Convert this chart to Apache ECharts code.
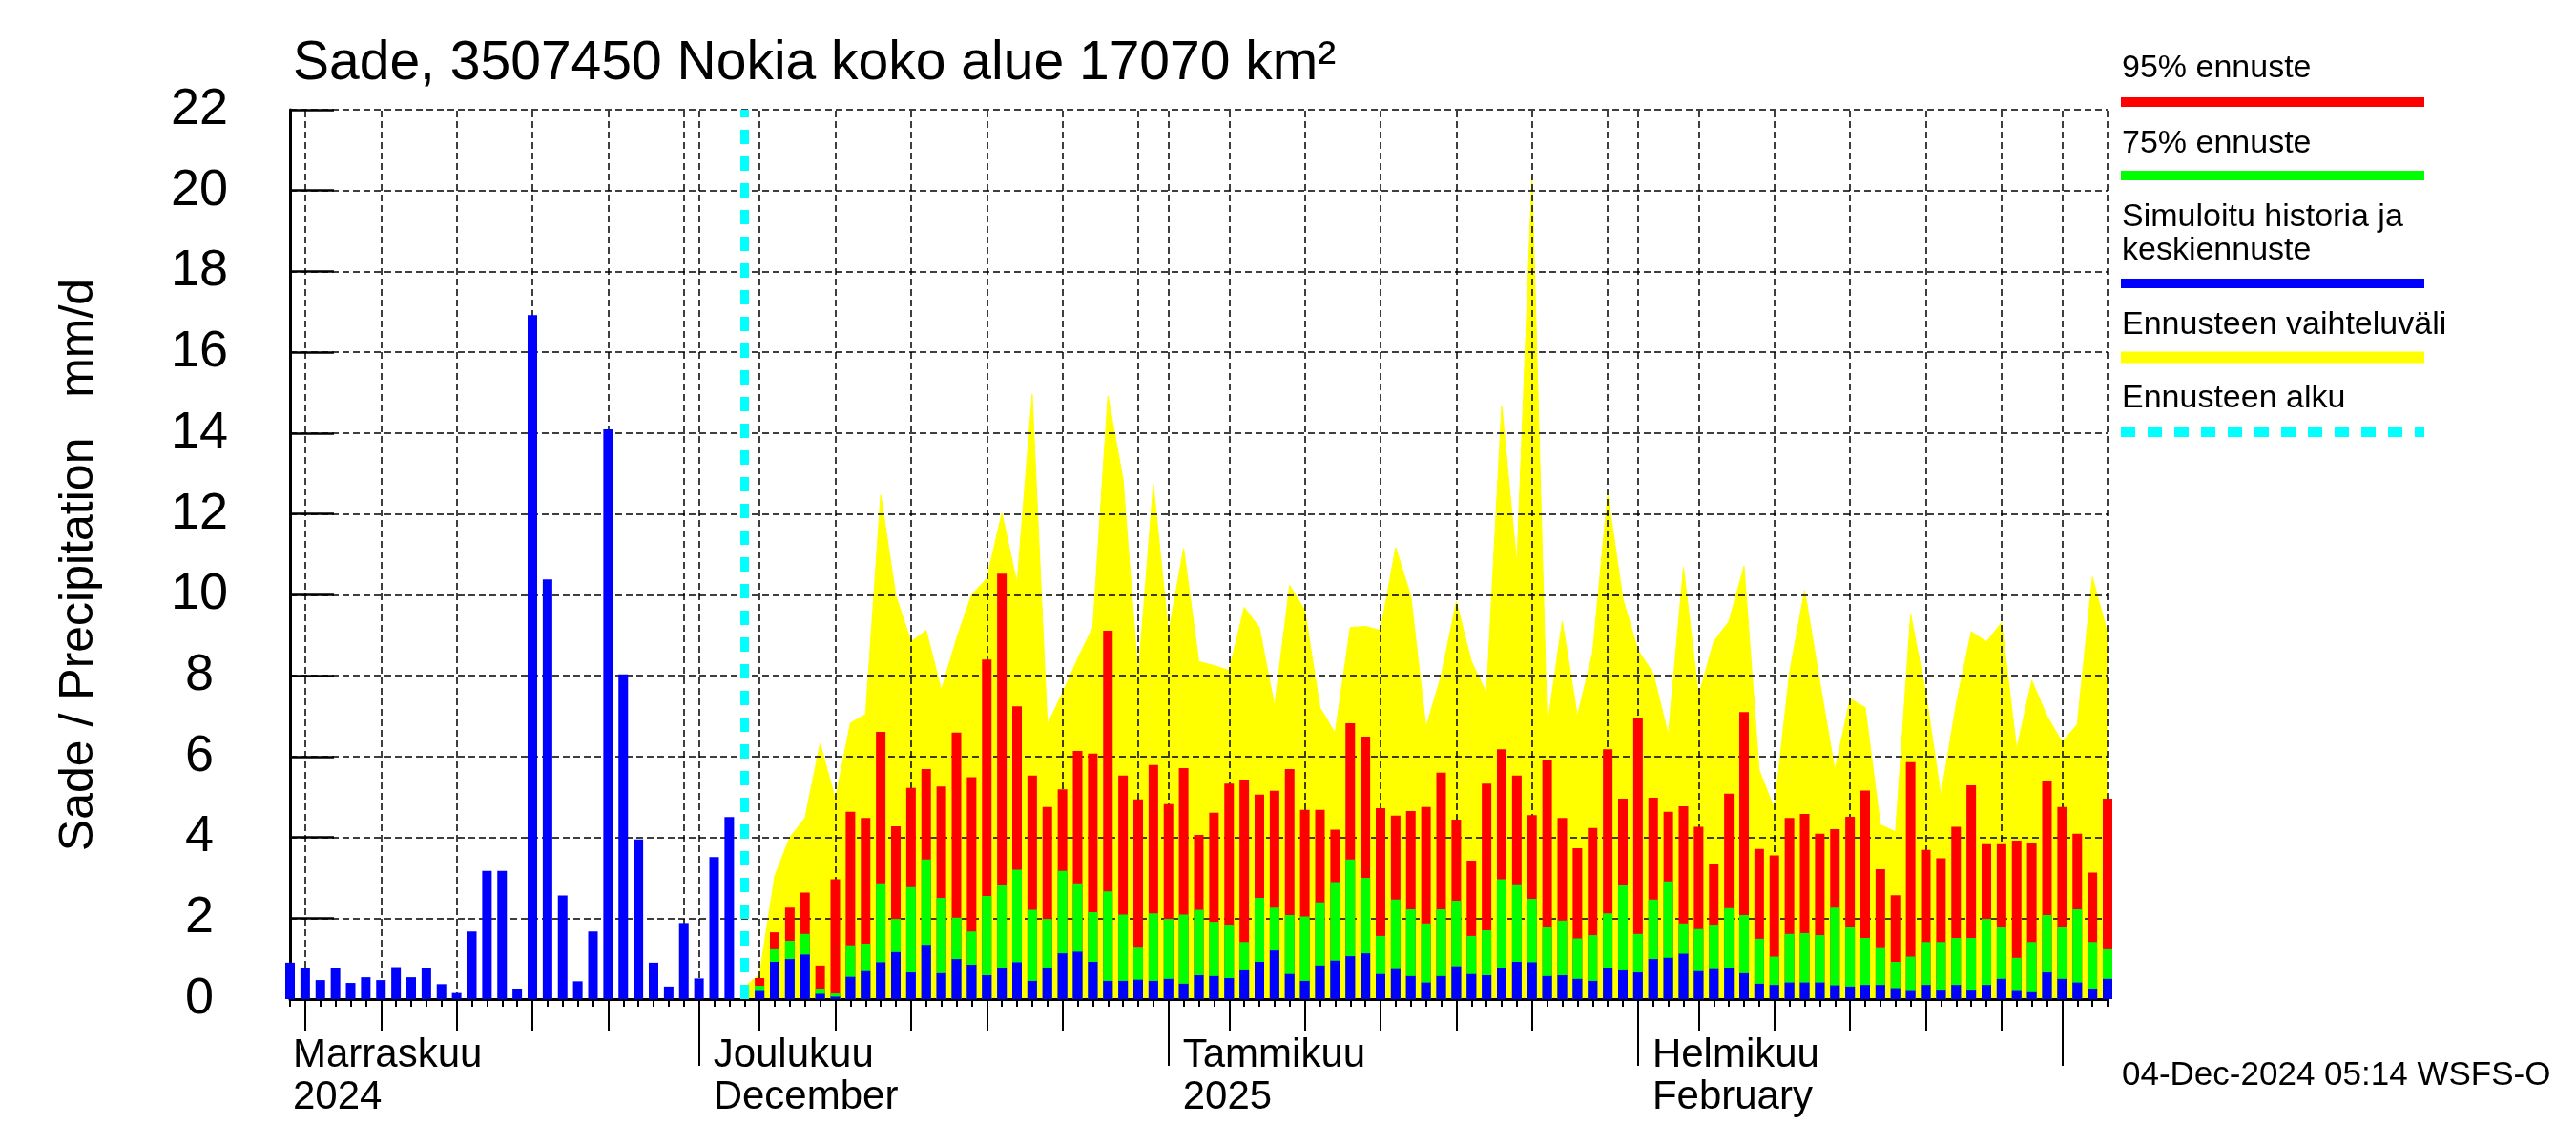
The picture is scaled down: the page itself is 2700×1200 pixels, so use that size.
<!DOCTYPE html>
<html><head><meta charset="utf-8">
<script src="https://cdn.jsdelivr.net/npm/echarts@6/dist/echarts.min.js"></script>
<style>html,body{margin:0;padding:0;background:#fff}#c{width:2700px;height:1200px}</style>
</head><body><div id="c"></div>
<script>
const FONT = '"Liberation Sans", Arial, Helvetica, sans-serif';

// Day index 0 = 2024-11-04, last day index 120 = 2025-03-04
const firstDay = '2024-11-04';
const lastDayIndex = 120;
const forecastStartDay = 30; // 2024-12-04

// Simulated history (days 0..29)
const histValues = [0.90, 0.77, 0.47, 0.77, 0.40, 0.54, 0.47, 0.79, 0.54, 0.77,
  0.37, 0.15, 1.67, 3.17, 3.17, 0.24, 16.92, 10.38, 2.56, 0.44,
  1.67, 14.09, 8.03, 3.95, 0.90, 0.31, 1.88, 0.51, 3.51, 4.50];

// Forecast bars, days 31..120
const fcRed = [0.52, 1.65, 2.26, 2.63, 0.83, 2.96, 4.63, 4.48, 6.61, 4.27,
  5.22, 5.69, 5.26, 6.59, 5.49, 8.40, 10.52, 7.24, 5.53, 4.75,
  5.19, 6.14, 6.07, 9.11, 5.53, 4.94, 5.79, 4.82, 5.71, 4.06,
  4.61, 5.33, 5.43, 5.06, 5.15, 5.69, 4.68, 4.68, 4.19, 6.82,
  6.49, 4.72, 4.54, 4.65, 4.75, 5.60, 4.44, 3.42, 5.33, 6.18,
  5.53, 4.55, 5.90, 4.48, 3.73, 4.23, 6.18, 4.96, 6.96, 4.98,
  4.63, 4.77, 4.26, 3.34, 5.08, 7.10, 3.71, 3.55, 4.48, 4.58,
  4.09, 4.20, 4.51, 5.16, 3.21, 2.57, 5.86, 3.69, 3.48, 4.26,
  5.29, 3.83, 3.83, 3.92, 3.85, 5.39, 4.75, 4.09, 3.13, 4.96];
const fcGreen = [0.33, 1.23, 1.44, 1.61, 0.24, 0.14, 1.33, 1.37, 2.86, 1.98,
  2.77, 3.45, 2.50, 2.01, 1.67, 2.55, 2.81, 3.20, 2.21, 1.98,
  3.17, 2.86, 2.15, 2.66, 2.09, 1.27, 2.12, 1.98, 2.09, 2.21,
  1.91, 1.84, 1.41, 2.50, 2.26, 2.08, 2.04, 2.39, 2.89, 3.45,
  3.00, 1.56, 2.46, 2.22, 1.87, 2.22, 2.43, 1.56, 1.70, 2.96,
  2.84, 2.48, 1.77, 1.94, 1.50, 1.58, 2.12, 2.83, 1.61, 2.46,
  2.91, 1.87, 1.73, 1.84, 2.25, 2.08, 1.49, 1.05, 1.61, 1.63,
  1.58, 2.26, 1.77, 1.51, 1.26, 0.92, 1.05, 1.41, 1.41, 1.51,
  1.51, 1.98, 1.77, 1.02, 1.41, 2.08, 1.77, 2.22, 1.41, 1.23];
const fcBlue = [0.20, 0.92, 0.99, 1.10, 0.13, 0.06, 0.55, 0.69, 0.91, 1.16,
  0.66, 1.34, 0.64, 0.99, 0.85, 0.59, 0.76, 0.91, 0.45, 0.78,
  1.13, 1.17, 0.92, 0.45, 0.45, 0.48, 0.45, 0.50, 0.38, 0.59,
  0.57, 0.52, 0.71, 0.92, 1.20, 0.62, 0.45, 0.83, 0.95, 1.06,
  1.13, 0.62, 0.74, 0.57, 0.41, 0.57, 0.81, 0.62, 0.59, 0.76,
  0.92, 0.91, 0.57, 0.59, 0.50, 0.45, 0.76, 0.71, 0.66, 0.99,
  1.02, 1.12, 0.69, 0.74, 0.76, 0.64, 0.38, 0.35, 0.41, 0.41,
  0.41, 0.34, 0.31, 0.35, 0.35, 0.27, 0.20, 0.35, 0.21, 0.35,
  0.21, 0.35, 0.50, 0.20, 0.17, 0.66, 0.50, 0.41, 0.24, 0.50];
// Forecast range upper bound, days 30..120
const fcRange = [0.30, 0.60, 3.04, 4.00, 4.48, 6.32, 4.95, 6.83, 7.04, 12.47,
  9.97, 8.84, 9.12, 7.64, 8.91, 10.00, 10.40, 12.02, 10.28, 14.96,
  6.79, 7.57, 8.42, 9.19, 14.92, 12.85, 7.99, 12.73, 9.05, 11.15,
  8.35, 8.25, 8.13, 9.69, 9.19, 7.24, 10.23, 9.62, 7.21, 6.58,
  9.19, 9.22, 9.12, 11.17, 9.97, 6.72, 7.99, 9.83, 8.35, 7.57,
  14.68, 10.75, 20.34, 6.72, 9.34, 7.00, 8.56, 12.49, 9.90, 8.63,
  8.06, 6.53, 10.68, 7.50, 8.84, 9.34, 10.71, 5.66, 4.71, 8.06,
  10.11, 7.85, 5.66, 7.43, 7.21, 4.31, 4.14, 9.52, 7.57, 5.02,
  7.28, 9.09, 8.84, 9.31, 6.18, 7.88, 7.00, 6.36, 6.79, 10.44, 9.05];

// Axis ticks / labels
const monthStartDays = [27, 58, 89, 117];
const fiveDayTicks = [1, 6, 11, 16, 21, 31, 36, 41, 46, 51, 62, 67, 72, 77, 82, 93, 98, 103, 108, 113];
const gridDays = [1, 6, 11, 16, 21, 26, 27, 31, 36, 41, 46, 51, 56, 58, 62, 67, 72, 77, 82, 87, 89, 93, 98, 103, 108, 113, 117, 120];
const monthLabelDays = [0, 27, 58, 89];
const monthLabelTexts = [['Marraskuu', '2024'], ['Joulukuu', 'December'], ['Tammikuu', '2025'], ['Helmikuu', 'February']];

const titleText = 'Sade, 3507450 Nokia koko alue 17070 km²';
const yAxisName = 'Sade / Precipitation   mm/d';
const footerText = '04-Dec-2024 05:14 WSFS-O';
const legendItems = [
  { text: ['95% ennuste'], color: '#ff0000' },
  { text: ['75% ennuste'], color: '#00ff00' },
  { text: ['Simuloitu historia ja', 'keskiennuste'], color: '#0000ff' },
  { text: ['Ennusteen vaihteluväli'], color: '#ffff00' },
  { text: ['Ennusteen alku'], color: '#00ffff', dashed: true }
];

const redData = fcRed.map((v, i) => [forecastStartDay + 1 + i, v]);
const greenData = fcGreen.map((v, i) => [forecastStartDay + 1 + i, v]);
const blueData = histValues.map((v, i) => [i, v]).concat(fcBlue.map((v, i) => [forecastStartDay + 1 + i, v]));
const rangeData = fcRange.map((v, i) => [forecastStartDay + i, v]);

const chart = echarts.init(document.getElementById('c'), null, { renderer: 'canvas' });

// legend graphics
const legendGraphics = [];
const legendTextMid = [71.6, 150.3, [227.9, 262.6], 340.3, 417.6];
const legendLineY = [107, 184, 297, 374.5, 453];
legendItems.forEach((it, k) => {
  const mids = Array.isArray(legendTextMid[k]) ? legendTextMid[k] : [legendTextMid[k]];
  it.text.forEach((t, j) => {
    legendGraphics.push({ type: 'text', x: 2224, y: mids[j], silent: true,
      style: { text: t, font: '34px ' + FONT, fill: '#000', align: 'left', verticalAlign: 'middle' } });
  });
  legendGraphics.push({ type: 'line', silent: true,
    shape: { x1: 2223, y1: legendLineY[k], x2: 2541, y2: legendLineY[k] },
    style: { stroke: it.color, lineWidth: k === 3 ? 12 : 10, lineDash: it.dashed ? [15, 13] : null, lineCap: 'butt' } });
});

const axisBase = { type: 'value', min: 0, max: lastDayIndex, position: 'bottom', splitLine: { show: false }, z: 1 };

chart.setOption({
  animation: false,
  backgroundColor: '#fff',
  grid: { left: 304, top: 115, width: 1905, height: 932, containLabel: false, outerBoundsMode: 'none' },
  xAxis: [
    Object.assign({}, axisBase, {
      interval: 1,
      axisLine: { show: true, onZero: false, lineStyle: { color: '#000', width: 3 } },
      axisTick: { show: true, length: 8, lineStyle: { color: '#000', width: 2 } },
      axisLabel: { show: false }
    }),
    Object.assign({}, axisBase, {
      axisLine: { show: false, onZero: false },
      axisTick: { show: true, customValues: fiveDayTicks, length: 33, lineStyle: { color: '#000', width: 2 } },
      axisLabel: { show: false }
    }),
    Object.assign({}, axisBase, {
      axisLine: { show: false, onZero: false },
      axisTick: { show: true, customValues: monthStartDays, length: 70, lineStyle: { color: '#000', width: 2 } },
      axisLabel: {
        show: true, customValues: monthLabelDays, margin: 37, align: 'left', color: '#000',
        formatter: function (v) {
          const k = monthLabelDays.indexOf(Math.round(v));
          if (k < 0) return '';
          const tag = k === 0 ? 'f' : 'm';
          return monthLabelTexts[k].map(s => '{' + tag + '|' + s + '}').join('\n');
        },
        rich: {
          f: { fontSize: 42, lineHeight: 44, fontFamily: FONT, color: '#000', padding: [0, 0, 0, 3] },
          m: { fontSize: 42, lineHeight: 44, fontFamily: FONT, color: '#000', padding: [0, 0, 0, 15] }
        }
      }
    })
  ],
  yAxis: {
    type: 'value', min: 0, max: 22, interval: 2, z: 1,
    axisLine: { show: true, lineStyle: { color: '#000', width: 3 } },
    axisTick: { show: true, inside: true, length: 46, lineStyle: { color: '#000', width: 2.5 } },
    axisLabel: { fontSize: 54, color: '#000', fontFamily: FONT, margin: 95, align: 'center', padding: [0, 0, 14, 0] },
    splitLine: { show: true, lineStyle: { color: '#000', type: [7, 4], width: 1.5 } }
  },
  graphic: [
    { type: 'text', x: 307, y: 67.6, silent: true,
      style: { text: titleText, font: '57px ' + FONT, fill: '#000', align: 'left', verticalAlign: 'middle' } },
    { type: 'text', x: 83, y: 592, rotation: Math.PI / 2, silent: true,
      style: { text: yAxisName, font: '50px ' + FONT, fill: '#000', align: 'center', verticalAlign: 'middle' } },
    { type: 'text', x: 2224, y: 1127, silent: true,
      style: { text: footerText, font: '35px ' + FONT, fill: '#000', align: 'left', verticalAlign: 'middle' } }
  ].concat(legendGraphics),
  series: [
    { name: 'Ennusteen vaihteluväli', type: 'line', data: rangeData, symbol: 'none', z: 0, silent: true,
      lineStyle: { color: '#ffff00', width: 1 }, areaStyle: { color: '#ffff00', opacity: 1 } },
    { name: 'grid', type: 'line', data: [], z: 1, silent: true,
      markLine: { silent: true, z: 1, symbol: ['none', 'none'], label: { show: false }, animation: false,
        lineStyle: { color: '#000', type: [7, 4], width: 1.5 },
        data: gridDays.map(d => ({ xAxis: d })) } },
    { name: '95% ennuste', type: 'bar', data: redData, barWidth: 10, barGap: '-100%', z: 2, clip: false, silent: true,
      itemStyle: { color: '#ff0000' } },
    { name: '75% ennuste', type: 'bar', data: greenData, barWidth: 10, barGap: '-100%', z: 3, clip: false, silent: true,
      itemStyle: { color: '#00ff00' } },
    { name: 'Simuloitu historia ja keskiennuste', type: 'bar', data: blueData, barWidth: 10, barGap: '-100%', z: 4, clip: false, silent: true,
      itemStyle: { color: '#0000ff' } },
    { name: 'Ennusteen alku', type: 'line', data: [], z: 6, silent: true,
      markLine: { silent: true, z: 6, symbol: ['none', 'none'], label: { show: false }, animation: false,
        lineStyle: { color: '#00ffff', type: [15, 13], width: 9 },
        data: [{ xAxis: forecastStartDay }] } }
  ]
});
</script></body></html>
